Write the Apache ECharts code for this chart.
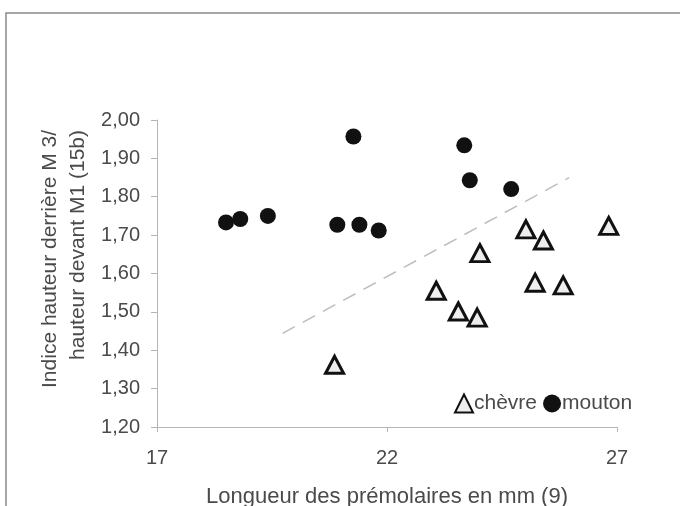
<!DOCTYPE html>
<html>
<head>
<meta charset="utf-8">
<script src="https://cdn.jsdelivr.net/npm/echarts@6/dist/echarts.min.js"></script>
<style>
  html, body { margin: 0; padding: 0; background: #fff; }
  #chart { width: 680px; height: 506px; }
</style>
</head>
<body>
<div id="chart"></div>
<script>
// chèvre (goat) points: [longueur prémolaires, indice]
const chevre = [
  [20.86, 1.362], [23.07, 1.555], [23.55, 1.501], [23.96, 1.485],
  [24.02, 1.653], [25.02, 1.715], [25.22, 1.576], [25.40, 1.686],
  [25.83, 1.569], [26.82, 1.724]
];
// mouton (sheep) points
const mouton = [
  [18.50, 1.733], [18.81, 1.742], [19.41, 1.750], [20.92, 1.727],
  [21.27, 1.957], [21.40, 1.727], [21.82, 1.712], [23.68, 1.934],
  [23.80, 1.843], [24.70, 1.820]
];
// dashed separation line end points
const separation = [[19.73, 1.444], [25.96, 1.850]];

const xTicks = { min: 17, max: 27, interval: 5 };
const yTicks = { min: 1.2, max: 2.0, interval: 0.1 };
const yTitle = ['Indice hauteur derrière M 3/', 'hauteur devant M1 (15b)'];

const font = 'Liberation Sans, Arial, sans-serif';
const grey = '#4a4a4a';

const chart = echarts.init(document.getElementById('chart'));
chart.setOption({
  backgroundColor: '#fff',
  animation: false,
  graphic: [
    {
      type: 'rect',
      shape: { x: 6, y: 13, width: 720, height: 600 },
      style: { fill: 'none', stroke: '#8a8a8a', lineWidth: 1.5 },
      silent: true
    },
    {
      // y axis title, lines aligned at their end like the original
      type: 'text',
      x: 64, y: 130,
      rotation: Math.PI / 2,
      style: {
        text: yTitle.join('\n'),
        font: '21px ' + font,
        fill: grey,
        align: 'right',
        verticalAlign: 'middle',
        lineHeight: 28
      },
      silent: true
    }
  ],
  grid: { left: 157, right: 63, top: 120, bottom: 79, outerBoundsMode: 'none', containLabel: false },
  legend: {
    data: ['chèvre', 'mouton'],
    left: 449, top: 388,
    itemWidth: 18, itemHeight: 18, itemGap: 6,
    textStyle: { fontFamily: font, fontSize: 21, color: grey, padding: [0, 0, 0, -4] }
  },
  xAxis: {
    type: 'value',
    min: xTicks.min, max: xTicks.max, interval: xTicks.interval,
    name: 'Longueur des prémolaires en mm (9)',
    nameLocation: 'middle', nameGap: 59,
    nameTextStyle: { fontFamily: font, fontSize: 22, color: grey },
    axisLine: { lineStyle: { color: '#b5b5b5', width: 1 } },
    axisTick: { show: true, length: 5, lineStyle: { color: '#b5b5b5' } },
    axisLabel: { fontFamily: font, fontSize: 20, color: grey, margin: 21 },
    splitLine: { show: false }
  },
  yAxis: {
    type: 'value',
    min: yTicks.min, max: yTicks.max, interval: yTicks.interval,
    axisLine: { show: true, lineStyle: { color: '#b5b5b5', width: 1 } },
    axisTick: { show: true, length: 6, lineStyle: { color: '#b5b5b5' } },
    axisLabel: {
      fontFamily: font, fontSize: 20, color: grey, margin: 17,
      formatter: v => v.toFixed(2).replace('.', ',')
    },
    splitLine: { show: false }
  },
  series: [
    {
      name: 'separation',
      type: 'line',
      data: separation,
      showSymbol: false,
      symbol: 'none',
      lineStyle: { color: '#bdbdbd', width: 1.5, type: [14, 9] },
      silent: true
    },
    {
      name: 'chèvre',
      type: 'scatter',
      data: chevre,
      symbol: 'triangle',
      symbolSize: [18, 17],
      itemStyle: { color: '#eeeeee', borderColor: '#111', borderWidth: 3, opacity: 1 }
    },
    {
      name: 'mouton',
      type: 'scatter',
      data: mouton,
      symbol: 'circle',
      symbolSize: 16,
      itemStyle: { color: '#111', opacity: 1 }
    }
  ]
});
</script>
</body>
</html>
